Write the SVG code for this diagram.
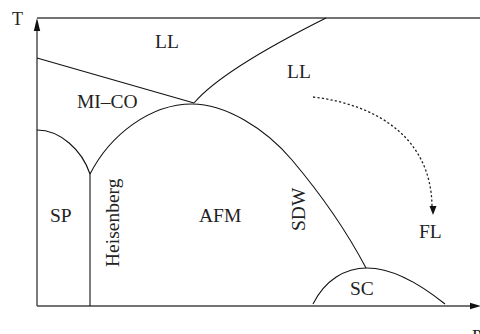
<svg xmlns="http://www.w3.org/2000/svg" width="480" height="334" viewBox="0 0 480 334">
  <style>
    .axis { fill: none; stroke: #444; stroke-width: 1.4; }
    .phase { fill: none; stroke: #111; stroke-width: 1.1; }
    .flow { fill: none; stroke: #222; stroke-width: 1.3; stroke-dasharray: 2.2 2.2; }
    .head { fill: #111; stroke: none; }
    text { font-family: "Liberation Serif", "Times New Roman", serif; font-size: 19.5px; fill: #222; }
    .axlabel { font-size: 18px; }
  </style>
  <rect width="480" height="334" fill="#fff"/>

  <!-- axes and frame -->
  <g id="axes">
    <line class="axis" x1="37" y1="306" x2="37" y2="28"/>
    <polygon class="head" points="37,18 33.8,31 40.2,31"/>
    <line class="axis" x1="37" y1="306" x2="472" y2="306"/>
    <polygon class="head" points="481,306 470,302.8 470,309.2"/>
    <line class="axis" x1="37" y1="18" x2="480" y2="18"/>
    <text class="axlabel" x="12" y="25">T</text>
    <text class="axlabel" x="472" y="343">P</text>
  </g>

  <!-- phase boundaries -->
  <g id="connectors">
    <!-- MI-CO upper boundary -->
    <line class="phase" x1="37" y1="58" x2="194" y2="103"/>
    <!-- LL / LL crossover -->
    <path class="phase" d="M194,103 Q222,70 326,18"/>
    <!-- AFM / SDW dome -->
    <path class="phase" d="M90,174 C110,135 150,104 192,104 C225,104 265,128 292,160 C319,192 345,228 366,268"/>
    <!-- SP dome -->
    <path class="phase" d="M37,130 C60,130 82,150 90,174"/>
    <!-- Heisenberg boundary -->
    <line class="phase" x1="90" y1="174" x2="90" y2="306"/>
    <!-- SC dome -->
    <path class="phase" d="M313,304 C325,280 345,268 367,268 C392,268 420,284 445,304"/>
    <!-- flow towards FL -->
    <path class="flow" d="M313,97 C380,105 431,140 432,206"/>
    <polygon class="head" points="433,215 429.5,206 436.5,206"/>
  </g>

  <!-- region labels -->
  <g id="LL-top"><text x="155" y="48">LL</text></g>
  <g id="LL-right"><text x="287" y="78">LL</text></g>
  <g id="MI-CO"><text x="77" y="108">MI–CO</text></g>
  <g id="SP"><text x="50" y="222">SP</text></g>
  <g id="Heisenberg"><text transform="translate(119,267) rotate(-90)">Heisenberg</text></g>
  <g id="AFM"><text x="199" y="222">AFM</text></g>
  <g id="SDW"><text transform="translate(305,231) rotate(-90)">SDW</text></g>
  <g id="FL"><text x="419" y="238">FL</text></g>
  <g id="SC"><text x="350" y="295">SC</text></g>
</svg>
